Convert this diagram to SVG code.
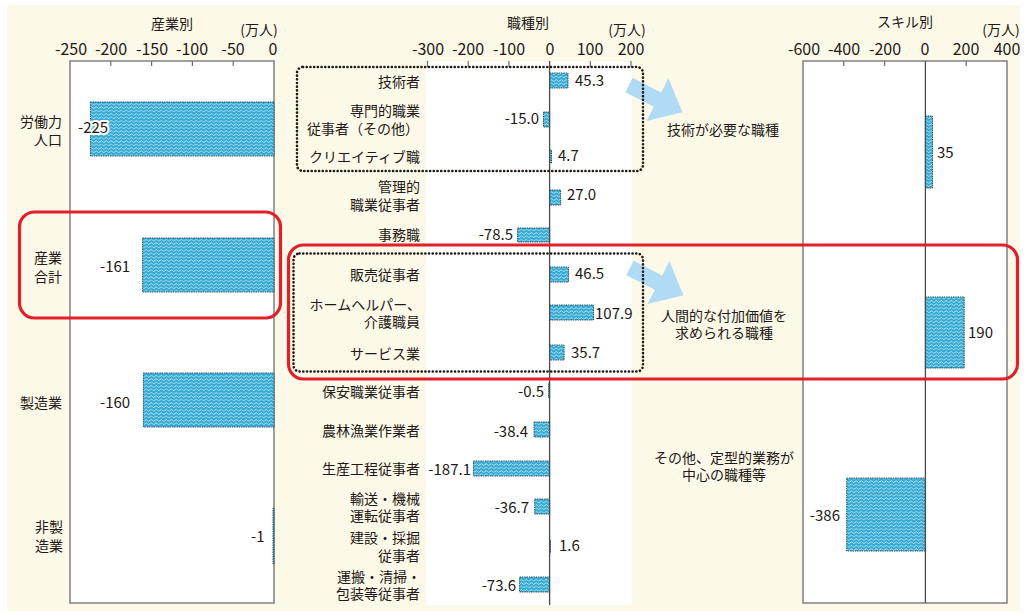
<svg xmlns="http://www.w3.org/2000/svg" width="1025" height="615" viewBox="0 0 1025 615">
<defs>
<pattern id="wave" width="5" height="3.4" patternUnits="userSpaceOnUse">
<rect width="5" height="3.4" fill="#33A9D3"/>
<path d="M0 2.2 Q1.25 0.6 2.5 2.2 T5 2.2" fill="none" stroke="#ffffff" stroke-width="0.7"/>
</pattern>
<style>
text{font-family:"Noto Sans CJK JP","Noto Sans",sans-serif;fill:#231815}
.t{font-size:16px;text-anchor:middle}
.h{font-size:14px;text-anchor:middle}
.c{font-size:14px;text-anchor:end}
.cm{font-size:14px;text-anchor:middle}
.v{font-size:15px}
.ve{font-size:15px;text-anchor:end}
.bar{fill:url(#wave);stroke:#1d4552;stroke-width:0.9;stroke-dasharray:1.5 0.8}
.box{fill:#ffffff;stroke:#6e6e6e;stroke-width:1.3}
.tick{stroke:#6e6e6e;stroke-width:1.2}
.zero{stroke:#4a4a4a;stroke-width:1.3}
.dot{fill:none;stroke:#231815;stroke-width:2.6;stroke-dasharray:0.1 3.6;stroke-linecap:round}
.red{fill:none;stroke:#E2202A;stroke-width:3.2}
.arr{fill:#B0DBF5}
.halo{paint-order:stroke;stroke:#ffffff;stroke-width:4;stroke-linejoin:round}
</style>
</defs>
<rect x="0" y="0" width="1025" height="615" fill="#ffffff"/>
<rect x="7" y="5" width="1013" height="606" fill="#FDF9E8"/>

<g id="panel-industry">
<text class="h" x="172" y="29">産業別</text>
<text class="h" x="259" y="35">(万人)</text>
<text class="t" x="71" y="55">-250</text>
<text class="t" x="111" y="55">-200</text>
<text class="t" x="152" y="55">-150</text>
<text class="t" x="192" y="55">-100</text>
<text class="t" x="233" y="55">-50</text>
<text class="t" x="273" y="55">0</text>
<rect class="box" x="70" y="61" width="204" height="542"/>
<path class="tick" d="M110.8 61v5M151.6 61v5M192.4 61v5M233.2 61v5"/>
</g>
<g id="row-labor">
<rect class="bar" x="90.4" y="102" width="183.6" height="54"/>
<text class="c" x="62" y="127">労働力</text>
<text class="c" x="62" y="145">人口</text>
<text class="v halo" x="78" y="133">-225</text>
</g>
<g id="row-industry-total">
<rect class="bar" x="142.6" y="238" width="131.4" height="54"/>
<text class="cm" x="48" y="263">産業</text>
<text class="cm" x="48" y="282">合計</text>
<text class="v" x="100" y="272">-161</text>
</g>
<g id="row-manufacturing">
<rect class="bar" x="143.4" y="373" width="130.6" height="54"/>
<text class="c" x="62" y="408">製造業</text>
<text class="v" x="100" y="408">-160</text>
</g>
<g id="row-nonmanufacturing">
<rect class="bar" x="273" y="508" width="1" height="56"/>
<text class="c" x="63" y="532">非製</text>
<text class="c" x="63" y="551">造業</text>
<text class="v" x="251" y="542">-1</text>
</g>

<g id="panel-occupation">
<rect x="426" y="62" width="206" height="543" fill="#ffffff"/>
<text class="h" x="528" y="28">職種別</text>
<text class="h" x="627" y="35">(万人)</text>
<text class="t" x="428" y="55">-300</text>
<text class="t" x="468" y="55">-200</text>
<text class="t" x="509" y="55">-100</text>
<text class="t" x="550" y="55">0</text>
<text class="t" x="590" y="55">100</text>
<text class="t" x="631" y="55">200</text>
<path class="tick" d="M427.5 61v6M468.2 61v6M508.9 61v6M590.3 61v6M631 61v6"/>
</g>
<g id="occ-engineer">
<rect class="bar" x="549.6" y="73" width="18.4" height="15"/>
<text class="c" x="420" y="87">技術者</text>
<text class="v" x="575" y="86">45.3</text>
</g>
<g id="occ-professional">
<rect class="bar" x="543.5" y="112" width="6.1" height="15"/>
<text class="c" x="420" y="116">専門的職業</text>
<text class="c" x="419" y="134">従事者（その他）</text>
<text class="ve" x="539" y="124">-15.0</text>
</g>
<g id="occ-creative">
<rect class="bar" x="549.6" y="150" width="1.9" height="13"/>
<text class="c" x="420" y="162">クリエイティブ職</text>
<text class="v" x="558" y="161">4.7</text>
</g>
<g id="occ-manager">
<rect class="bar" x="549.6" y="190" width="11" height="15"/>
<text class="c" x="420" y="192">管理的</text>
<text class="c" x="420" y="210">職業従事者</text>
<text class="v" x="567" y="200">27.0</text>
</g>
<g id="occ-clerical">
<rect class="bar" x="517.6" y="228" width="32" height="14"/>
<text class="c" x="420" y="240">事務職</text>
<text class="ve" x="513" y="240">-78.5</text>
</g>
<g id="occ-sales">
<rect class="bar" x="549.6" y="267" width="18.9" height="15"/>
<text class="c" x="420" y="280">販売従事者</text>
<text class="v" x="575" y="279">46.5</text>
</g>
<g id="occ-care">
<rect class="bar" x="549.6" y="305" width="43.9" height="15"/>
<text class="c" x="421" y="310">ホームヘルパー、</text>
<text class="c" x="420" y="327">介護職員</text>
<text class="v" x="595" y="319">107.9</text>
</g>
<g id="occ-service">
<rect class="bar" x="549.6" y="345" width="14.5" height="15"/>
<text class="c" x="420" y="359">サービス業</text>
<text class="v" x="571" y="358">35.7</text>
</g>
<g id="occ-security">
<rect class="bar" x="548.6" y="383" width="1" height="15"/>
<text class="c" x="420" y="397">保安職業従事者</text>
<text class="ve" x="544" y="397">-0.5</text>
</g>
<g id="occ-agriculture">
<rect class="bar" x="534" y="422" width="15.6" height="15"/>
<text class="c" x="420" y="436">農林漁業作業者</text>
<text class="ve" x="528" y="437">-38.4</text>
</g>
<g id="occ-production">
<rect class="bar" x="473.4" y="461" width="76.2" height="15"/>
<text class="c" x="420" y="474">生産工程従事者</text>
<text class="ve" x="471" y="475">-187.1</text>
</g>
<g id="occ-transport">
<rect class="bar" x="534.7" y="499" width="14.9" height="15"/>
<text class="c" x="420" y="504">輸送・機械</text>
<text class="c" x="420" y="521">運転従事者</text>
<text class="ve" x="529" y="513">-36.7</text>
</g>
<g id="occ-construction">
<rect class="bar" x="549.6" y="540" width="0.9" height="13"/>
<text class="c" x="420" y="543">建設・採掘</text>
<text class="c" x="420" y="561">従事者</text>
<text class="v" x="559" y="551">1.6</text>
</g>
<g id="occ-cleaning">
<rect class="bar" x="519.6" y="577" width="30" height="15"/>
<text class="c" x="421" y="582">運搬・清掃・</text>
<text class="c" x="420" y="599">包装等従事者</text>
<text class="ve" x="516" y="591">-73.6</text>
</g>
<g id="occ-zero">
<line class="zero" x1="549.6" y1="61" x2="549.6" y2="605"/>
</g>

<g id="panel-skill">
<text class="h" x="905" y="27">スキル別</text>
<text class="h" x="1001" y="35">(万人)</text>
<text class="t" x="804" y="55">-600</text>
<text class="t" x="844" y="55">-400</text>
<text class="t" x="885" y="55">-200</text>
<text class="t" x="925" y="55">0</text>
<text class="t" x="966" y="55">200</text>
<text class="t" x="1007" y="55">400</text>
<rect class="box" x="803" y="61" width="204" height="542"/>
<path class="tick" d="M843.8 61v5M884.6 61v5M966.2 61v5"/>
</g>
<g id="skill-tech">
<rect class="bar" x="925.4" y="116" width="7.1" height="72"/>
<text class="v" x="937" y="158">35</text>
</g>
<g id="skill-human">
<rect class="bar" x="925.4" y="297" width="38.8" height="71"/>
<text class="v" x="968" y="338">190</text>
</g>
<g id="skill-routine">
<rect class="bar" x="846.7" y="478" width="78.7" height="73"/>
<text class="ve" x="840" y="521">-386</text>
</g>
<g id="skill-zero">
<line class="zero" x1="925.4" y1="61" x2="925.4" y2="603"/>
</g>

<g id="note-tech">
<text x="667" y="135" style="font-size:14px">技術が必要な職種</text>
</g>
<g id="note-human">
<text class="cm" x="724" y="321">人間的な付加価値を</text>
<text class="cm" x="724" y="338">求められる職種</text>
</g>
<g id="note-routine">
<text class="cm" x="724" y="463">その他、定型的業務が</text>
<text class="cm" x="724" y="480">中心の職種等</text>
</g>

<g id="connectors">
<path class="arr" transform="translate(629 85) rotate(27)" d="M0 -8H32V-24L60 0L32 24V8H0Z"/>
<path class="arr" transform="translate(630 268) rotate(27)" d="M0 -8H32V-24L60 0L32 24V8H0Z"/>
</g>

<g id="group-tech">
<rect class="dot" x="297" y="67" width="346" height="104" rx="6"/>
</g>
<g id="group-human">
<rect class="dot" x="293.5" y="253.5" width="349.5" height="118" rx="6"/>
</g>
<g id="highlight-total">
<rect class="red" x="19.5" y="212" width="261" height="106" rx="15"/>
</g>
<g id="highlight-human">
<rect class="red" x="288.5" y="245" width="729" height="134" rx="15"/>
</g>
</svg>
